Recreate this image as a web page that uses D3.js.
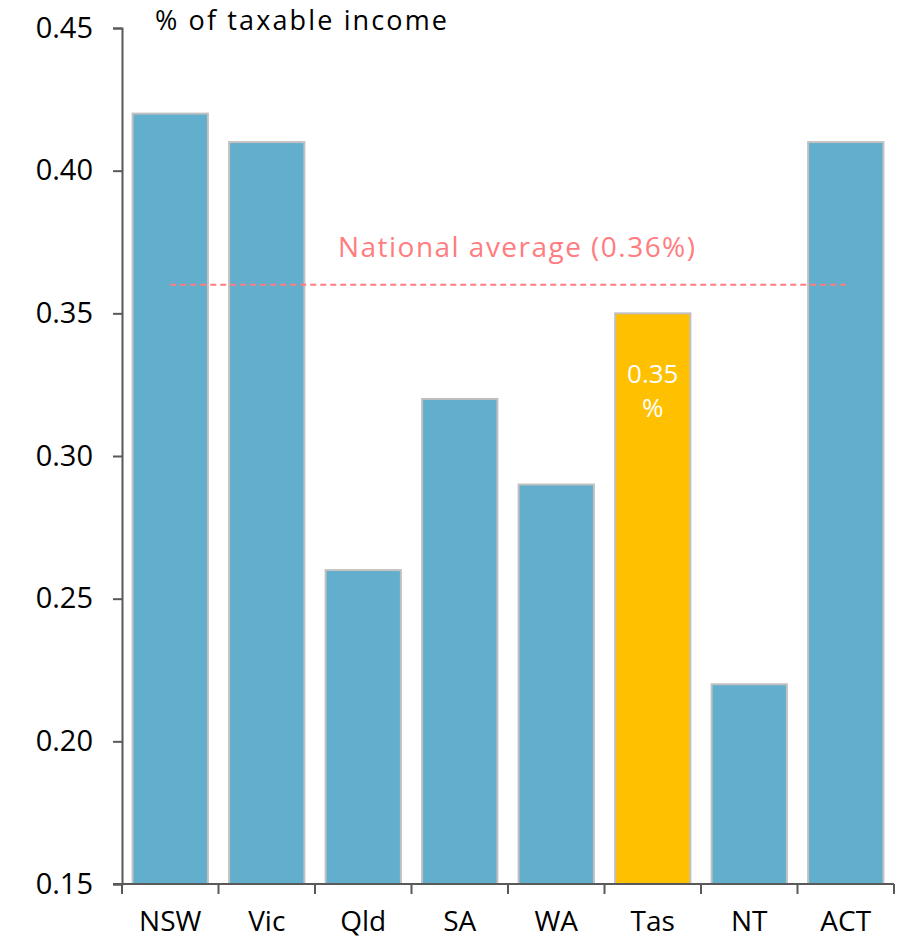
<!DOCTYPE html>
<html>
<head>
<meta charset="utf-8">
<script src="https://d3js.org/d3.v7.min.js"></script>
<style>
  body { margin: 0; background: #fff; }
  text { font-family: "Open Sans", "DejaVu Sans", sans-serif; }
</style>
</head>
<body>
<script>
// data
var states = ["NSW", "Vic", "Qld", "SA", "WA", "Tas", "NT", "ACT"];
var values = [0.42, 0.41, 0.26, 0.32, 0.29, 0.35, 0.22, 0.41];
var highlight = "Tas";
var nationalAvg = 0.36;
var yTicks = [0.15, 0.20, 0.25, 0.30, 0.35, 0.40, 0.45];

var w = 912, h = 940;
var margin = {top: 28, right: 18, bottom: 56, left: 122};

var svg = d3.select("body").append("svg")
  .attr("width", w)
  .attr("height", h);

var x = d3.scaleBand()
  .domain(states)
  .range([margin.left, w - margin.right])
  .paddingInner(0.22)
  .paddingOuter(0.11);

var y = d3.scaleLinear()
  .domain([0.15, 0.45])
  .range([h - margin.bottom, margin.top]);

var data = states.map(function(s, i) { return {state: s, value: values[i]}; });

// bars
svg.selectAll("rect.bar")
  .data(data)
  .enter().append("rect")
  .attr("class", "bar")
  .attr("x", function(d) { return x(d.state); })
  .attr("y", function(d) { return y(d.value); })
  .attr("width", x.bandwidth())
  .attr("height", function(d) { return y(0.15) - y(d.value); })
  .attr("fill", function(d) { return d.state == highlight ? "#ffc000" : "#62aecd"; })
  .attr("stroke", "#c0c0c0")
  .attr("stroke-width", 2);

// x axis with ticks at category boundaries
var xAxis = svg.append("g")
  .attr("transform", "translate(0," + y(0.15) + ")");
xAxis.append("line")
  .attr("x1", margin.left - 9).attr("x2", w - margin.right)
  .attr("stroke", "#595959").attr("stroke-width", 2);
var step = x.step();
xAxis.selectAll("line.tick")
  .data(d3.range(states.length + 1))
  .enter().append("line")
  .attr("x1", function(i) { return margin.left + i * step; })
  .attr("x2", function(i) { return margin.left + i * step; })
  .attr("y1", 0).attr("y2", 10)
  .attr("stroke", "#595959").attr("stroke-width", 2);
xAxis.selectAll("text")
  .data(states)
  .enter().append("text")
  .attr("x", function(d) { return x(d) + x.bandwidth() / 2; })
  .attr("y", 47)
  .attr("text-anchor", "middle")
  .style("font-size", "28px")
  .style("fill", "#000")
  .text(function(d) { return d; });

// y axis
var yAxis = d3.axisLeft(y)
  .tickValues(yTicks)
  .tickSize(9)
  .tickPadding(20)
  .tickFormat(d3.format(".2f"));
var gy = svg.append("g")
  .attr("transform", "translate(" + margin.left + ",0)")
  .call(yAxis);
gy.select(".domain").attr("stroke", "#595959").attr("stroke-width", 2);
gy.selectAll(".tick line").attr("stroke", "#595959").attr("stroke-width", 2);
gy.selectAll(".tick text")
  .style("font-size", "29px")
  .style("font-family", "'Open Sans', 'DejaVu Sans', sans-serif")
  .attr("fill", "#000");

// unit title
svg.append("text")
  .attr("x", 155)
  .attr("y", 30)
  .attr("textLength", 292)
  .style("font-size", "27px")
  .style("fill", "#000")
  .text("% of taxable income");

// national average line
var first = x(states[0]) + x.bandwidth() / 2;
var last = x(states[states.length - 1]) + x.bandwidth() / 2;
svg.append("line")
  .attr("x1", first).attr("x2", last)
  .attr("y1", y(nationalAvg)).attr("y2", y(nationalAvg))
  .attr("stroke", "#ff7c80")
  .attr("stroke-width", 2)
  .attr("stroke-dasharray", "6,4");
svg.append("text")
  .attr("x", 338)
  .attr("y", y(nationalAvg) - 28)
  .attr("textLength", 357)
  .style("font-size", "28px")
  .style("fill", "#ff7c80")
  .text("National average (" + nationalAvg + "%)");

// label inside highlighted bar
var hi = data.filter(function(d) { return d.state == highlight; })[0];
var lab = svg.append("text")
  .attr("x", x(hi.state) + x.bandwidth() / 2)
  .attr("y", y(hi.value) + 70)
  .attr("text-anchor", "middle")
  .style("font-size", "26px")
  .style("fill", "#fff");
lab.append("tspan").attr("x", x(hi.state) + x.bandwidth() / 2).text(hi.value.toFixed(2));
lab.append("tspan").attr("x", x(hi.state) + x.bandwidth() / 2).attr("dy", 34).text("%");
</script>
</body>
</html>
